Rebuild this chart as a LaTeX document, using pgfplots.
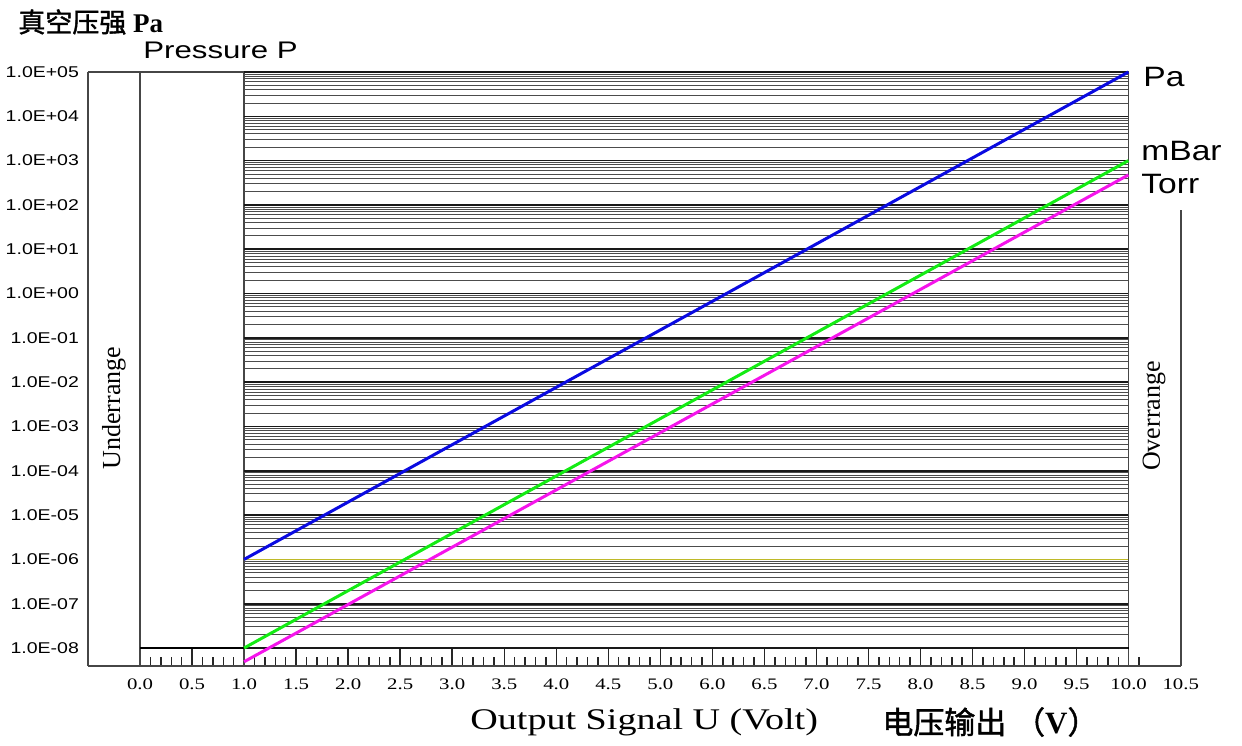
\documentclass[border=0pt]{standalone}
\usepackage{pgfplots}
\pgfplotsset{compat=1.18}
\usepackage{graphicx}
\usepackage{fontspec}
\setmainfont{Liberation Serif}
\setsansfont{Liberation Sans}
\newfontfamily\cjk{Noto Sans CJK SC}[FakeBold=1.5]
\newcommand\xl[1]{\scalebox{1.3}[1]{#1}}
\newcommand\yl[1]{\scalebox{1.25}[1]{#1}}
\definecolor{pablue}{RGB}{10,10,225}
\definecolor{mbgreen}{RGB}{20,235,20}
\definecolor{tomag}{RGB}{245,20,235}
\definecolor{framec}{RGB}{70,70,70}
\definecolor{oliveline}{RGB}{190,185,40}
\begin{document}
\begin{tikzpicture}
\useasboundingbox (-44pt,-39.5pt) rectangle (577pt,333pt);
\begin{axis}[
  at={(0pt,0pt)}, anchor=south west,
  scale only axis, width=546.35pt, height=297pt,
  xmin=-0.5, xmax=10, ymode=log, ymin=3.925e-9, ymax=1e5,
  axis line style={draw=none},
  xtick={0,0.5,...,10},
  xticklabels={\xl{0.0},\xl{0.5},\xl{1.0},\xl{1.5},\xl{2.0},\xl{2.5},\xl{3.0},\xl{3.5},\xl{4.0},\xl{4.5},\xl{5.0},\xl{6.0},\xl{6.5},\xl{7.0},\xl{7.5},\xl{8.0},\xl{8.5},\xl{9.0},\xl{9.5},\xl{10.0},\xl{10.5}},
  minor xtick={0,0.1,...,9.55},
  xtick pos=bottom, tick align=inside,
  major tick length=9pt, minor tick length=4.3pt,
  every tick/.style={black!85, line width=0.75pt},
  ytick={1e-8,1e-7,1e-6,1e-5,1e-4,1e-3,1e-2,1e-1,1,1e1,1e2,1e3,1e4,1e5},
  yticklabels={\yl{1.0E-08},\yl{1.0E-07},\yl{1.0E-06},\yl{1.0E-05},\yl{1.0E-04},\yl{1.0E-03},\yl{1.0E-02},\yl{1.0E-01},\yl{1.0E+00},\yl{1.0E+01},\yl{1.0E+02},\yl{1.0E+03},\yl{1.0E+04},\yl{1.0E+05}},
  ytick style={draw=none}, yminorticks=false,
  xticklabel style={font=\fontsize{8}{9}\selectfont, yshift=-3pt},
  yticklabel style={font=\sffamily\fontsize{7.8}{9}\selectfont, xshift=-1pt},
  clip=false,
]
\draw[framec, line width=0.8pt] (axis cs:-0.5,1e5) -- (axis cs:9.5,1e5);
\draw[framec, line width=0.8pt] (axis cs:-0.5,3.925e-9) -- (axis cs:-0.5,1e5);
\draw[framec, line width=0.8pt] (axis cs:-0.5,3.925e-9) -- (axis cs:10,3.925e-9);
\draw[framec, line width=0.8pt] (axis cs:0,3.925e-9) -- (axis cs:0,1e5);
\draw[framec, line width=0.8pt] (axis cs:1,3.925e-9) -- (axis cs:1,1e5);
\draw[framec, line width=0.8pt] (axis cs:9.5,3.925e-9) -- (axis cs:9.5,1e5);
\draw[framec, line width=0.8pt] (axis cs:10,3.925e-9) -- (axis cs:10,76.9);
\draw[black, line width=0.7pt] (axis cs:0,1e-8) -- (axis cs:9.5,1e-8);
\coordinate (G) at (axis cs:1,1e-8);
\end{axis}
\begin{axis}[
  at={(G)}, anchor=south west,
  scale only axis, width=442.15pt, height=288pt,
  xmin=1, xmax=9.5, ymode=log, ymin=1e-8, ymax=1e5,
  axis line style={draw=none},
  xtick=\empty,
  ytick={1e-8,1e-7,1e-6,1e-5,1e-4,1e-3,1e-2,1e-1,1,1e1,1e2,1e3,1e4,1e5},
  yticklabels={},
  ymajorgrids, yminorgrids,
  major tick length=0pt, minor tick length=0pt,
  major grid style={black!90, line width=0.8pt},
  minor grid style={black!70, line width=0.45pt},
  clip=false,
]
\draw[oliveline, line width=0.8pt] (axis cs:1,1e-6) -- (axis cs:9.5,1e-6);
\addplot[pablue, line width=1.5pt, no markers] coordinates {(1,1e-6) (9.5,1e5)};
\addplot[mbgreen, line width=1.5pt, no markers] coordinates {(1,1e-8) (9.5,1e3)};
\addplot[tomag, line width=1.5pt, no markers] coordinates {(1,4.9e-9) (9.5,4.75e2)};
\end{axis}
\node[anchor=west, inner sep=0pt, font=\fontsize{13.5}{15}\selectfont] at (-35pt,322pt) {{\cjk 真空压强} \textbf{Pa}};
\node[anchor=west, inner sep=0pt, font=\sffamily\fontsize{12}{14}\selectfont] at (27.5pt,308pt) {\scalebox{1.3}[1]{Pressure P}};
\node[rotate=90, inner sep=0pt, font=\fontsize{13}{15}\selectfont] at (13pt,129pt) {Underrange};
\node[rotate=90, inner sep=0pt, font=\fontsize{13}{15}\selectfont] at (533pt,125pt) {Overrange};
\node[anchor=west, inner sep=0pt, font=\sffamily\fontsize{14}{16}\selectfont] at (527.5pt,294.5pt) {\scalebox{1.2}[1]{Pa}};
\node[anchor=west, inner sep=0pt, font=\sffamily\fontsize{14}{16}\selectfont] at (526.5pt,257.5pt) {\scalebox{1.2}[1]{mBar}};
\node[anchor=west, inner sep=0pt, font=\sffamily\fontsize{14}{16}\selectfont] at (526.5pt,241pt) {\scalebox{1.2}[1]{Torr}};
\node[anchor=west, inner sep=0pt, font=\fontsize{15}{17}\selectfont] at (191pt,-28pt) {\scalebox{1.27}[1]{Output Signal U (Volt)}};
\node[anchor=west, inner sep=0pt, font=\fontsize{15.5}{17}\selectfont] at (397pt,-28pt) {{\cjk 电压输出} {\cjk （}\textbf{V}{\cjk ）}};
\end{tikzpicture}
\end{document}
